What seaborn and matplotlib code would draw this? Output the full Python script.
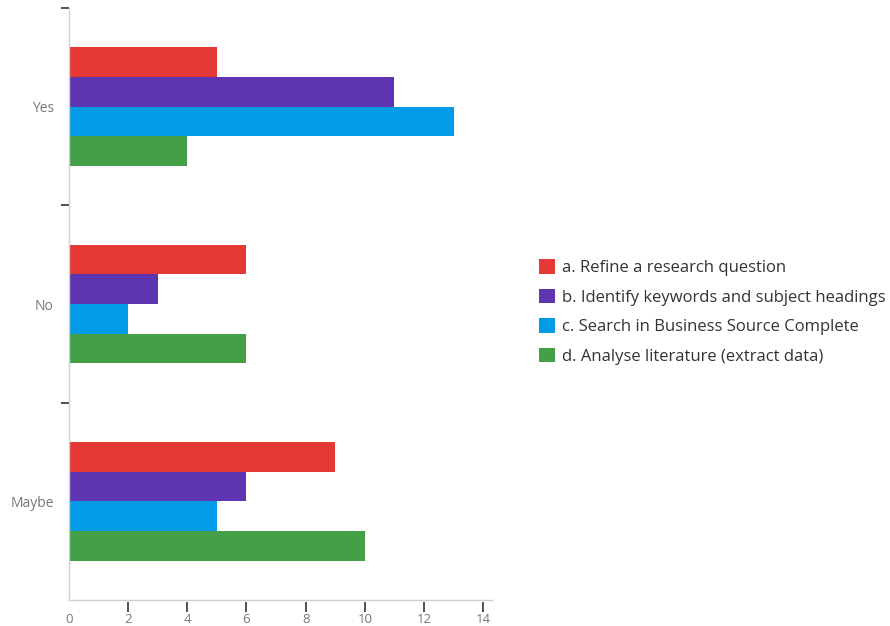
import matplotlib
matplotlib.use("Agg")
import matplotlib.pyplot as plt
from matplotlib.patches import Patch
from matplotlib.ticker import FixedLocator
import seaborn as sns
import pandas as pd

answers = ["Yes", "No", "Maybe"]
tasks = [
    "a. Refine a research question",
    "b. Identify keywords and subject headings",
    "c. Search in Business Source Complete",
    "d. Analyse literature (extract data)",
]
refine = [5, 6, 9]
keywords = [11, 3, 6]
search = [13, 2, 5]
analyse = [4, 6, 10]
colors = ["#E53935", "#5E35B1", "#039BE5", "#43A047"]
x_ticks = [0, 2, 4, 6, 8, 10, 12, 14]

rows = []
for task, vals in zip(tasks, [refine, keywords, search, analyse]):
    for ans, v in zip(answers, vals):
        rows.append({"answer": ans, "task": task, "count": v})
df = pd.DataFrame(rows)

sns.set_theme(style="white")
plt.rcParams["font.family"] = ["Open Sans", "DejaVu Sans"]

fig = plt.figure(figsize=(8.9, 6.26), dpi=100)
ax_h = 600 - 8
ax = fig.add_axes([69 / 890, 1 - 600 / 626, (492 - 69) / 890, ax_h / 626])

sns.barplot(data=df, y="answer", x="count", hue="task", order=answers,
            hue_order=tasks, palette=colors, orient="h", width=0.6,
            saturation=1, linewidth=0, legend=False, ax=ax)

ax.set_xlim(0, 14.3)
ax.set_ylim(2.5, -0.5)
ax.set_xlabel("")
ax.set_ylabel("")

for side in ["top", "right"]:
    ax.spines[side].set_visible(False)
for side in ["left", "bottom"]:
    ax.spines[side].set_color("#d0d0d0")
    ax.spines[side].set_linewidth(1.0)

# x ticks are drawn on a slightly lowered secondary axis so they sit below the spine
ax.set_xticks(x_ticks)
ax.tick_params(axis="x", length=0, labelbottom=False)
sec = ax.secondary_xaxis(-2 / ax_h)
sec.set_xticks(x_ticks)
sec.set_xticklabels([str(t) for t in x_ticks])
sec.spines["bottom"].set_visible(False)
sec.tick_params(axis="x", direction="out", length=7, width=1.2,
                color="#333333", pad=1, labelsize=9.5, labelcolor="#777777")
sec.xaxis.get_major_ticks()[0].tick1line.set_visible(False)

ax.tick_params(axis="y", which="major", length=0, pad=11, labelsize=10,
               labelcolor="#777777")
ax.yaxis.set_minor_locator(FixedLocator([-0.5, 0.5, 1.5]))
ax.tick_params(axis="y", which="minor", direction="out", length=6, width=1.2,
               color="#333333", left=True)

handles = [Patch(facecolor=c, edgecolor="none") for c in colors]
fig.legend(handles, tasks, loc="center left",
           bbox_to_anchor=(524 / 890, 1 - 312 / 626), frameon=False,
           handlelength=0.95, handleheight=0.95, handletextpad=0.45,
           labelspacing=0.75, fontsize=12, labelcolor="#333333")

fig.savefig("out.png", dpi=100)
